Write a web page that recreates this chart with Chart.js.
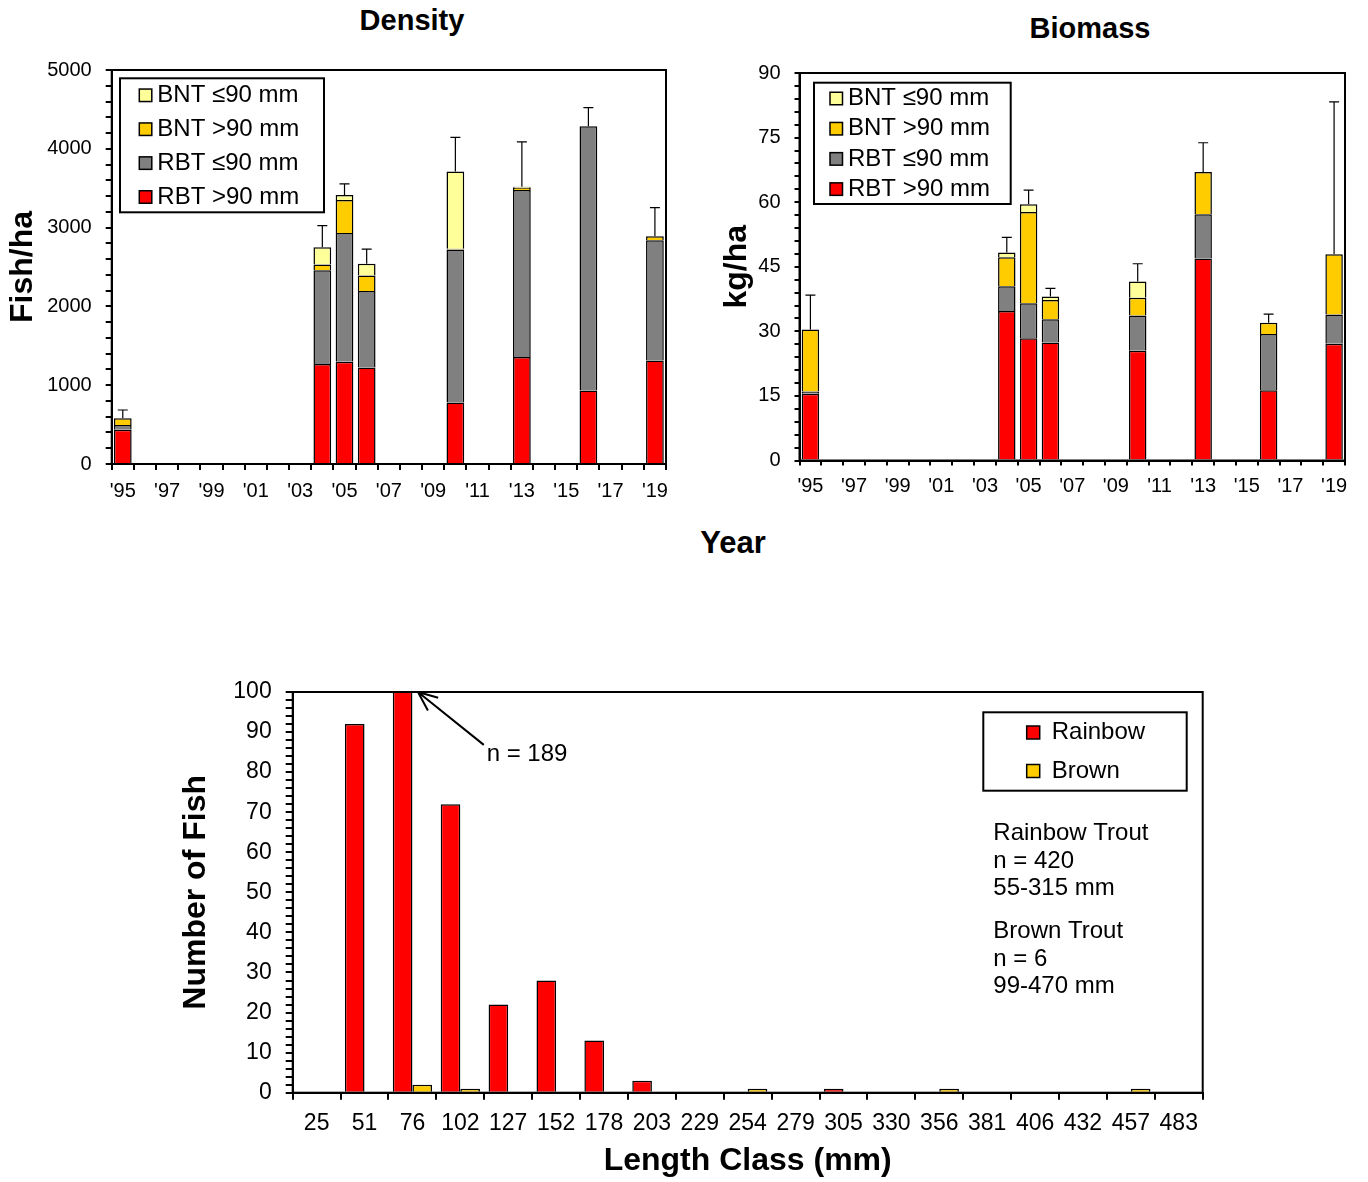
<!DOCTYPE html>
<html>
<head>
<meta charset="utf-8">
<script src="https://cdn.jsdelivr.net/npm/chart.js@4.4.1/dist/chart.umd.min.js"></script>
<style>
  body { margin: 0; background: #fff; width: 1368px; height: 1182px; position: relative; overflow: hidden;
         font-family: "Liberation Sans", Arial, sans-serif; }
  .panel { position: absolute; }
  .ttl { position: absolute; font-weight: bold; font-size: 29px; line-height: 1; white-space: nowrap;
         transform: translate(-50%, -50%); color: #000; }
</style>
</head>
<body>
<div class="ttl" style="left:412px;top:20px">Density</div>
<div class="ttl" style="left:1090px;top:28px">Biomass</div>
<div class="ttl" style="left:733px;top:542px;font-size:31px">Year</div>

<div class="panel" style="left:0;top:0"><canvas id="density" width="690" height="520"></canvas></div>
<div class="panel" style="left:690px;top:0"><canvas id="biomass" width="678" height="520"></canvas></div>
<div class="panel" style="left:0;top:560px"><canvas id="lengths" width="1368" height="622"></canvas></div>

<script>
// ---- data ----
const years = [1995, 1996, 1997, 1998, 1999, 2000, 2001, 2002, 2003, 2004, 2005, 2006, 2007,
               2008, 2009, 2010, 2011, 2012, 2013, 2014, 2015, 2016, 2017, 2018, 2019];
const yearLabels = ["'95", "", "'97", "", "'99", "", "'01", "", "'03", "", "'05", "", "'07",
                    "", "'09", "", "'11", "", "'13", "", "'15", "", "'17", "", "'19"];
const surveyYears = [1995, 2004, 2005, 2006, 2010, 2013, 2016, 2019];

const seriesNames = ['RBT >90 mm', 'RBT \u226490 mm', 'BNT >90 mm', 'BNT \u226490 mm'];
const seriesColors = ['#ff0000', '#808080', '#ffcc00', '#ffff99'];

// fish/ha
const densRbtOver90  = [435, 1268, 1298, 1226, 780, 1357, 933, 1315];
const densRbtUnder90 = [60, 1192, 1632, 971, 1942, 2120, 3354, 1526];
const densBntOver90  = [85, 72, 420, 195, 10, 30, 0, 50];
const densBntUnder90 = [0, 220, 64, 148, 979, 10, 0, 0];
const densErr        = [105, 272, 140, 187, 433, 570, 235, 362];

// kg/ha
const bioRbtOver90  = [15.5, 34.7, 28.4, 27.4, 25.5, 46.9, 16.3, 27.1];
const bioRbtUnder90 = [0.5, 5.8, 8.1, 5.4, 8.2, 10.3, 13.1, 6.8];
const bioBntOver90  = [14.4, 6.7, 21.2, 4.5, 4.1, 9.8, 2.6, 14.0];
const bioBntUnder90 = [0, 1.1, 1.8, 0.8, 3.8, 0, 0, 0];
const bioErr        = [8.0, 3.5, 3.3, 1.9, 4.1, 6.8, 2.0, 35.4];

// length frequency
const lengthClasses = ['25', '51', '76', '102', '127', '152', '178', '203', '229', '254',
                       '279', '305', '330', '356', '381', '406', '432', '457', '483'];
const rainbowCounts = [0, 92, 189, 72, 22, 28, 13, 3, 0, 0, 0, 1, 0, 0, 0, 0, 0, 0, 0];
const brownCounts   = [0, 0, 2, 1, 0, 0, 0, 0, 0, 1, 0, 0, 0, 1, 0, 0, 0, 1, 0];
const statsLines = [['Rainbow Trout', 'n = 420', '55-315 mm'], ['Brown Trout', 'n = 6', '99-470 mm']];

Chart.defaults.font.family = '"Liberation Sans", Arial, sans-serif';
Chart.defaults.color = '#000';

// spread survey-year values over the full year axis
function spread(vals) {
  return years.map(y => {
    const i = surveyYears.indexOf(y);
    return i < 0 ? null : vals[i];
  });
}

function stackSets(groups) {
  return groups.map((vals, i) => ({
    label: seriesNames[i],
    data: spread(vals),
    backgroundColor: seriesColors[i],
    borderColor: '#000',
    borderWidth: 1.5
  }));
}

// box around the plot
const frame = {
  id: 'frame',
  afterDatasetsDraw(chart) {
    const { ctx, chartArea: a } = chart;
    ctx.save();
    ctx.strokeStyle = '#000';
    ctx.lineWidth = 2;
    ctx.strokeRect(a.left, a.top, a.right - a.left, a.bottom - a.top);
    ctx.restore();
  }
};

// one-sided error bars on top of each stack
function errorBars(errs) {
  const full = spread(errs);
  return {
    id: 'errorBars',
    afterDatasetsDraw(chart) {
      const { ctx, scales: { x, y } } = chart;
      ctx.save();
      ctx.strokeStyle = '#000';
      ctx.lineWidth = 1.2;
      full.forEach((e, i) => {
        if (e == null) return;
        let total = 0;
        chart.data.datasets.forEach(ds => { total += ds.data[i] || 0; });
        const px = x.getPixelForValue(i);
        const y0 = y.getPixelForValue(total);
        const y1 = y.getPixelForValue(total + e);
        ctx.beginPath();
        ctx.moveTo(px, y0); ctx.lineTo(px, y1);
        ctx.moveTo(px - 5, y1); ctx.lineTo(px + 5, y1);
        ctx.stroke();
      });
      ctx.restore();
    }
  };
}

// legend inside a bordered box
function boxLegend(cfg) {
  return {
    id: 'boxLegend',
    afterDraw(chart) {
      const { ctx, chartArea: a } = chart;
      const sets = chart.data.datasets.slice();
      if (cfg.reverse) sets.reverse();
      const bx = a.left + cfg.x, by = a.top + cfg.y;
      ctx.save();
      ctx.fillStyle = '#fff';
      ctx.fillRect(bx, by, cfg.w, cfg.h);
      ctx.strokeStyle = '#000';
      ctx.lineWidth = 2;
      ctx.strokeRect(bx, by, cfg.w, cfg.h);
      ctx.font = cfg.font;
      ctx.textBaseline = 'middle';
      ctx.lineWidth = 1.5;
      sets.forEach((ds, i) => {
        const cy = by + cfg.row0 + i * cfg.gap;
        const s = cfg.size;
        ctx.fillStyle = ds.backgroundColor;
        ctx.fillRect(bx + cfg.mx, cy - s / 2, s, s);
        ctx.strokeRect(bx + cfg.mx, cy - s / 2, s, s);
        ctx.fillStyle = '#000';
        ctx.fillText(ds.label, bx + cfg.tx, cy);
      });
      ctx.restore();
    }
  };
}

function yearScale(tickLen, pad, fitH) {
  return {
    stacked: true,
    border: { display: true, color: '#000', width: 2 },
    grid: { drawOnChartArea: false, drawTicks: true, tickLength: tickLen, color: '#000', lineWidth: 2 },
    ticks: { autoSkip: false, maxRotation: 0, padding: pad, font: { size: 20 },
             callback: (v, i) => yearLabels[i] },
    afterFit: s => { s.height = fitH; }
  };
}

function valueScale(max, step, major, tickLen, pad, fitW, title, titlePad) {
  return {
    stacked: true, min: 0, max: max,
    border: { display: true, color: '#000', width: 2 },
    grid: { drawOnChartArea: false, drawTicks: true, tickLength: tickLen, color: '#000', lineWidth: 2 },
    ticks: { stepSize: step, maxTicksLimit: 200, autoSkip: false, padding: pad, font: { size: 20 },
             callback: v => (Math.round(v) % major === 0 ? v : '') },
    title: { display: true, text: title, font: { size: 32, weight: 'bold' }, padding: { top: titlePad, bottom: 0 } },
    afterFit: s => { s.width = fitW; }
  };
}

// Density
new Chart(document.getElementById('density'), {
  type: 'bar',
  data: { labels: years, datasets: stackSets([densRbtOver90, densRbtUnder90, densBntOver90, densBntUnder90]) },
  options: {
    responsive: false, animation: false,
    layout: { padding: { top: 70, right: 24, left: 0, bottom: 0 } },
    datasets: { bar: { barPercentage: 0.8, categoryPercentage: 1 } },
    plugins: { legend: { display: false }, tooltip: { enabled: false } },
    scales: {
      x: yearScale(6, 9, 56),
      y: valueScale(5000, 200, 1000, 6, 14, 111.7, 'Fish/ha', 4)
    }
  },
  plugins: [frame, errorBars(densErr),
    boxLegend({ x: 8.3, y: 8.3, w: 204, h: 134, mx: 19.3, tx: 37.3, size: 12.5,
                row0: 17, gap: 33.9, font: '24px "Liberation Sans", Arial, sans-serif', reverse: true })]
});

// Biomass
new Chart(document.getElementById('biomass'), {
  type: 'bar',
  data: { labels: years, datasets: stackSets([bioRbtOver90, bioRbtUnder90, bioBntOver90, bioBntUnder90]) },
  options: {
    responsive: false, animation: false,
    layout: { padding: { top: 73, right: 23, left: 0, bottom: 0 } },
    datasets: { bar: { barPercentage: 0.8, categoryPercentage: 1 } },
    plugins: { legend: { display: false }, tooltip: { enabled: false } },
    scales: {
      x: yearScale(5, 9, 59.5),
      y: valueScale(90, 3, 15, 5, 14, 109.5, 'kg/ha', 28)
    }
  },
  plugins: [frame, errorBars(bioErr),
    boxLegend({ x: 14.5, y: 9.7, w: 196.7, h: 121.3, mx: 16, tx: 34, size: 12.5,
                row0: 15.8, gap: 30.2, font: '24px "Liberation Sans", Arial, sans-serif', reverse: true })]
});

// notes on the length-frequency chart
const peakIndex = rainbowCounts.indexOf(Math.max(...rainbowCounts));
const lengthNotes = {
  id: 'lengthNotes',
  afterDraw(chart) {
    const { ctx, chartArea: a, scales: { x, y } } = chart;
    ctx.save();
    // arrow to the clipped peak bar
    const tipX = x.getPixelForValue(peakIndex + 0.115), tipY = y.getPixelForValue(100);
    const tailX = x.getPixelForValue(peakIndex + 1.49), tailY = y.getPixelForValue(86.8);
    ctx.strokeStyle = '#000';
    ctx.lineWidth = 2;
    ctx.beginPath();
    ctx.moveTo(tailX, tailY); ctx.lineTo(tipX, tipY);
    const ang = Math.atan2(tailY - tipY, tailX - tipX);
    [0.4, -0.4].forEach(d => {
      ctx.moveTo(tipX, tipY);
      ctx.lineTo(tipX + 21 * Math.cos(ang + d), tipY + 21 * Math.sin(ang + d));
    });
    ctx.stroke();
    ctx.fillStyle = '#000';
    ctx.font = '24px "Liberation Sans", Arial, sans-serif';
    ctx.textBaseline = 'middle';
    ctx.fillText('n = ' + rainbowCounts[peakIndex], x.getPixelForValue(peakIndex + 1.55), y.getPixelForValue(84.5));
    // sample summary
    statsLines.forEach((block, b) => {
      block.forEach((line, j) => {
        ctx.fillText(line, a.left + 700.6, a.top + 141.8 + b * 98 + j * 27.5);
      });
    });
    ctx.restore();
  }
};

new Chart(document.getElementById('lengths'), {
  type: 'bar',
  data: {
    labels: lengthClasses,
    datasets: [
      { label: 'Rainbow', data: rainbowCounts, backgroundColor: '#ff0000', borderColor: '#000', borderWidth: 1.5 },
      { label: 'Brown', data: brownCounts, backgroundColor: '#ffcc00', borderColor: '#000', borderWidth: 1.5 }
    ]
  },
  options: {
    responsive: false, animation: false,
    layout: { padding: { top: 132, right: 165.3, left: 0, bottom: 0 } },
    datasets: { bar: { barPercentage: 1, categoryPercentage: 0.82 } },
    plugins: { legend: { display: false }, tooltip: { enabled: false } },
    scales: {
      x: {
        border: { display: true, color: '#000', width: 2 },
        grid: { drawOnChartArea: false, drawTicks: true, tickLength: 7, color: '#000', lineWidth: 2 },
        ticks: { autoSkip: false, maxRotation: 0, padding: 10, font: { size: 23 } },
        title: { display: true, text: 'Length Class (mm)', font: { size: 32, weight: 'bold' }, padding: { top: 0, bottom: 2 } },
        afterFit: s => { s.height = 89.3; }
      },
      y: {
        min: 0, max: 100,
        border: { display: true, color: '#000', width: 2 },
        grid: { drawOnChartArea: false, drawTicks: true, tickLength: 7, color: '#000', lineWidth: 2 },
        ticks: { stepSize: 2, maxTicksLimit: 200, autoSkip: false, padding: 14, font: { size: 23 },
                 callback: v => (Math.round(v) % 10 === 0 ? v : '') },
        title: { display: true, text: 'Number of Fish', font: { size: 32, weight: 'bold' }, padding: { top: 176.8, bottom: 0 } },
        afterFit: s => { s.width = 292.7; }
      }
    }
  },
  plugins: [frame, lengthNotes,
    boxLegend({ x: 690.6, y: 20.3, w: 203.4, h: 78.4, mx: 43.4, tx: 68.4, size: 13,
                row0: 20.2, gap: 38.5, font: '24px "Liberation Sans", Arial, sans-serif', reverse: false })]
});
</script>
</body>
</html>
